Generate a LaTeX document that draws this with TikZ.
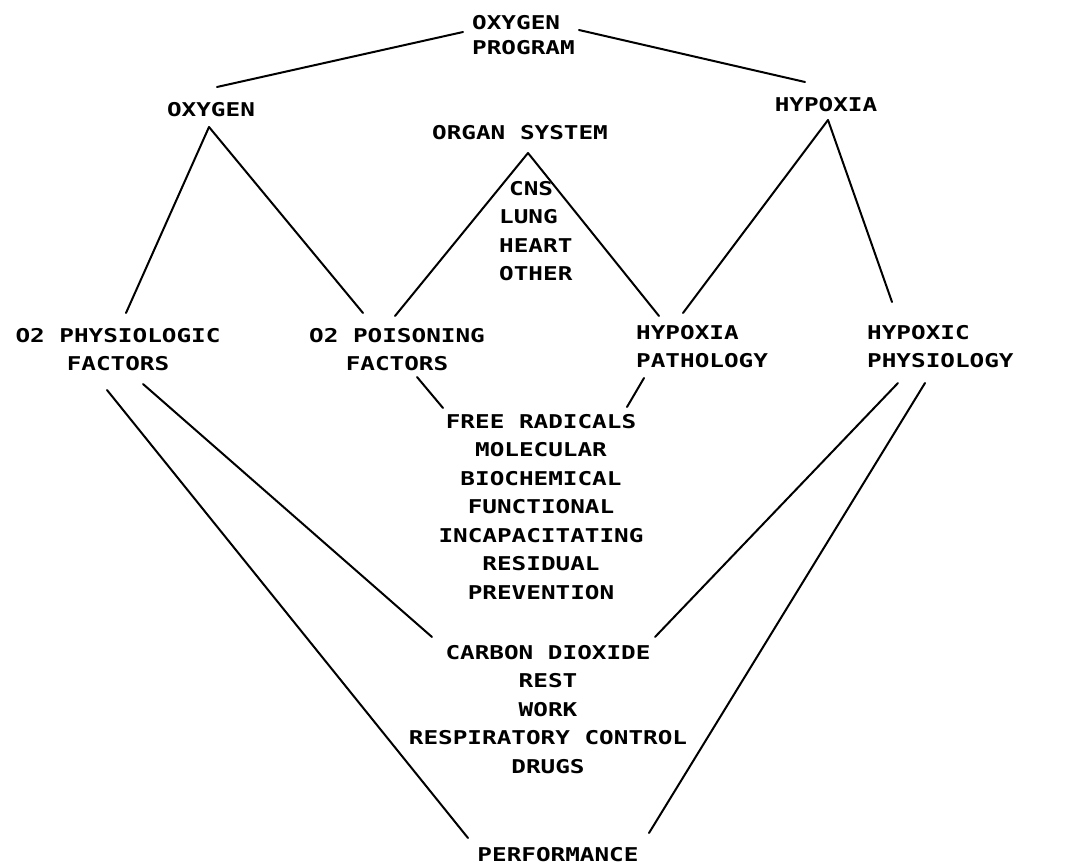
\documentclass[tikz,border=0pt]{standalone}
\usepackage{fontspec}
\setmainfont{DejaVu Sans Mono}[FakeStretch=1.28]
\begin{document}
\begin{tikzpicture}[x=1pt,y=-1pt,
  lbl/.style={inner sep=0pt, font=\bfseries\fontsize{19}{28.5}\selectfont},
  conn/.style={line width=2pt, line cap=round}]
\useasboundingbox[fill=white] (0,0) rectangle (1075,867);
% nodes
\node[lbl, anchor=north west, align=left, font=\bfseries\fontsize{19}{25}\selectfont] (prog) at (472,15) {OXYGEN\\PROGRAM};
\node[lbl, anchor=north] (oxy) at (211,102) {OXYGEN};
\node[lbl, anchor=north] (hyp) at (826,97) {HYPOXIA};
\node[lbl, anchor=north] (organ) at (520,125) {ORGAN SYSTEM};
\node[lbl, anchor=north west, align=left] (organs) at (499,181) {\hspace*{10pt}CNS\\LUNG\\HEART\\OTHER};
\node[lbl, anchor=north, align=center] (o2phys) at (118,328) {O2 PHYSIOLOGIC\\FACTORS};
\node[lbl, anchor=north, align=center] (o2pois) at (397,328) {O2 POISONING\\FACTORS};
\node[lbl, anchor=north west, align=left] (hpath) at (636,325) {HYPOXIA\\PATHOLOGY};
\node[lbl, anchor=north west, align=left] (hphys) at (867,325) {HYPOXIC\\PHYSIOLOGY};
\node[lbl, anchor=north, align=center] (free) at (541,414) {FREE RADICALS\\MOLECULAR\\BIOCHEMICAL\\FUNCTIONAL\\INCAPACITATING\\RESIDUAL\\PREVENTION};
\node[lbl, anchor=north, align=center] (co2) at (548,645) {CARBON DIOXIDE\\REST\\WORK\\RESPIRATORY CONTROL\\DRUGS};
\node[lbl, anchor=north] (perf) at (558,847) {PERFORMANCE};
% connector end points
\coordinate (prog-w) at (463,32);
\coordinate (prog-e) at (579,30);
\coordinate (oxy-n) at (217,87);
\coordinate (hyp-n) at (805,82);
\coordinate (oxy-s) at (209,127);
\coordinate (hyp-s) at (828,120);
\coordinate (organ-s) at (528,153);
\coordinate (o2phys-n) at (126,313);
\coordinate (o2pois-nl) at (363,313);
\coordinate (o2pois-nr) at (395,316);
\coordinate (hpath-nl) at (659,316);
\coordinate (hpath-nr) at (683,313);
\coordinate (hphys-n) at (892,302);
\coordinate (o2pois-s) at (417,377);
\coordinate (hpath-s) at (644,378);
\coordinate (free-nl) at (443,408);
\coordinate (free-nr) at (627,407);
\coordinate (o2phys-sl) at (107,390);
\coordinate (o2phys-sr) at (143,384);
\coordinate (hphys-sl) at (898,383);
\coordinate (hphys-sr) at (925,383);
\coordinate (co2-nl) at (432,637);
\coordinate (co2-nr) at (655,637);
\coordinate (perf-nl) at (468,838);
\coordinate (perf-nr) at (649,833);
% connectors
\draw[conn] (prog-w) -- (oxy-n);
\draw[conn] (prog-e) -- (hyp-n);
\draw[conn] (oxy-s) -- (o2phys-n);
\draw[conn] (oxy-s) -- (o2pois-nl);
\draw[conn] (organ-s) -- (o2pois-nr);
\draw[conn] (organ-s) -- (hpath-nl);
\draw[conn] (hyp-s) -- (hpath-nr);
\draw[conn] (hyp-s) -- (hphys-n);
\draw[conn] (o2pois-s) -- (free-nl);
\draw[conn] (hpath-s) -- (free-nr);
\draw[conn] (o2phys-sr) -- (co2-nl);
\draw[conn] (o2phys-sl) -- (perf-nl);
\draw[conn] (hphys-sl) -- (co2-nr);
\draw[conn] (hphys-sr) -- (perf-nr);
\end{tikzpicture}
\end{document}
